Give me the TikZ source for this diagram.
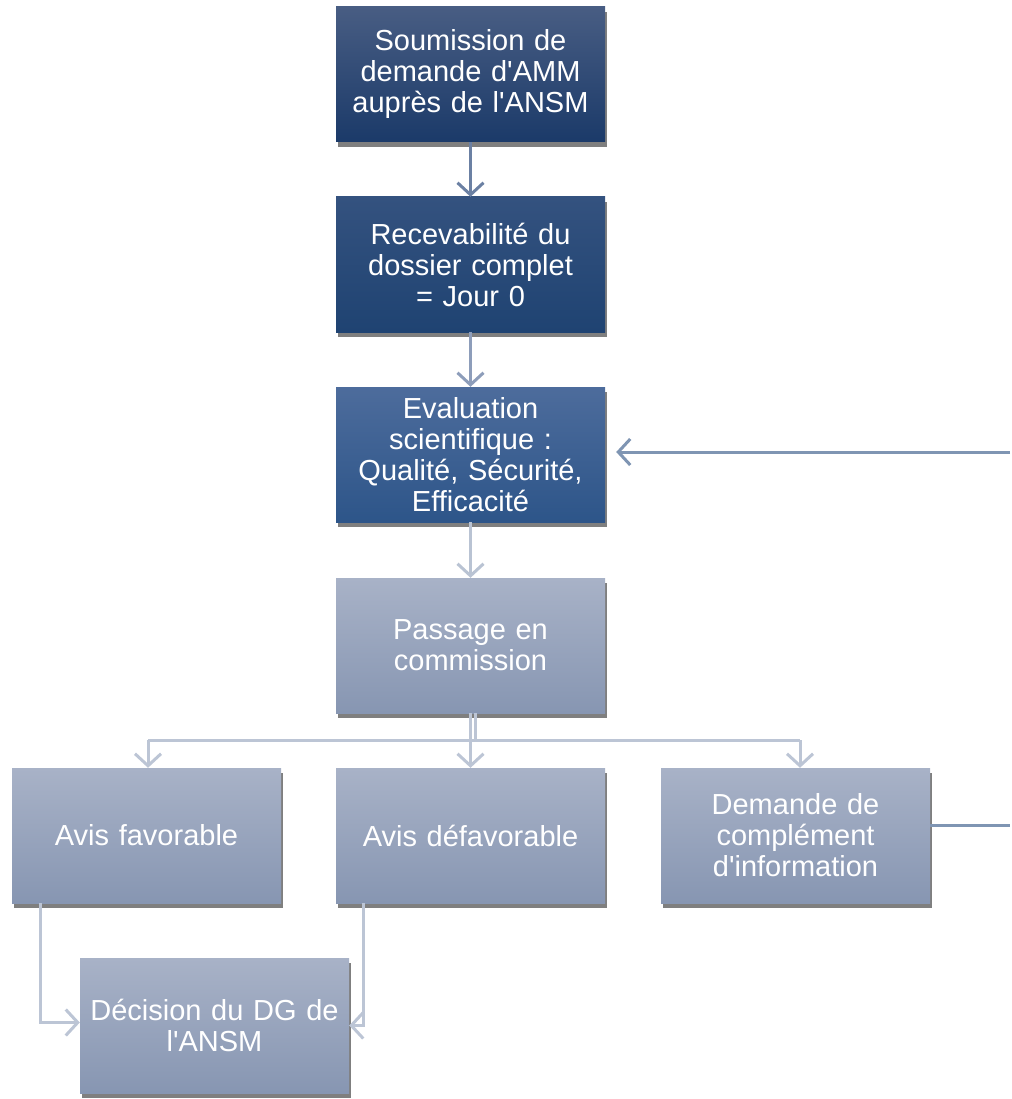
\documentclass[tikz,border=0pt]{standalone}
\usepackage{fontspec}
\setmainfont{Liberation Sans}
\usetikzlibrary{arrows.meta,shadows}
\definecolor{dkA}{HTML}{485D83}
\definecolor{dkB}{HTML}{1B3A69}
\definecolor{mdA}{HTML}{34527F}
\definecolor{mdB}{HTML}{1F4372}
\definecolor{blA}{HTML}{4D6C9C}
\definecolor{blB}{HTML}{2D5589}
\definecolor{ltA}{HTML}{A8B2C7}
\definecolor{ltB}{HTML}{8796B2}
\definecolor{arA}{HTML}{6B80A3}
\definecolor{arB}{HTML}{8D9DBA}
\definecolor{arC}{HTML}{B9C3D3}
\definecolor{arD}{HTML}{BCC5D5}
\definecolor{arE}{HTML}{7F95B3}
\newcommand{\apos}{\textquotesingle}
\tikzset{
  box/.style={rectangle, minimum width=269pt, minimum height=135pt, text width=262pt,
    align=center, text=white, inner sep=0pt,
    font=\fontsize{29}{31}\selectfont,
    drop shadow={shadow xshift=2pt, shadow yshift=-5pt, opacity=0.5, fill=black}},
  dark/.style={box, top color=dkA, bottom color=dkB},
  mid/.style={box, top color=mdA, bottom color=mdB},
  blu/.style={box, top color=blA, bottom color=blB},
  lite/.style={box, top color=ltA, bottom color=ltB},
  conn/.style={line width=3pt, -{Straight Barb[length=12pt,width=26pt,line width=3pt]}},
  plain/.style={line width=3pt}
}
\begin{document}
\begin{tikzpicture}[x=1pt,y=-1pt]
\useasboundingbox (0,0) rectangle (1011,1099);
\node[dark] (b1) at (470.5,74.5) {Soumission de\\demande d\apos AMM\\auprès de l\apos ANSM};
\node[mid]  (b2) at (470.5,264.5) {Recevabilité du\\dossier complet\\= Jour 0};
\node[blu]  (b3) at (470.5,454.5) {Evaluation\\scientifique :\\Qualité, Sécurité,\\Efficacité};
\node[lite] (b4) at (470.5,645.5) {Passage en\\commission};
\node[lite] (fav) at (146.5,835.5) {Avis favorable};
\node[lite] (def) at (470.5,835.5) {Avis défavorable};
\node[lite] (dem) at (795.5,835.5) {Demande de\\complément\\d\apos information};
\node[lite] (dec) at (214.5,1025.5) {Décision du DG de\\l\apos ANSM};
\coordinate (eTop) at (1010,452);
\coordinate (eBot) at (1010,825);
\coordinate (tL) at (148,740);
\coordinate (tR) at (800,740);
% vertical chain
\draw[conn, arA] (b1) -- (b2);
\draw[conn, arB] (b2) -- (b3);
\draw[conn, arC] (b3) -- (b4);
% tree
\draw[plain, arD] ([xshift=5pt]b4.south) -- ([xshift=5pt]b4.south |- tL);
\draw[plain, arD] (tL) -- (tR);
\draw[conn, arD] (tL) -- (fav.north -| tL);
\draw[conn, arD] (b4.south) -- (def.north);
\draw[conn, arD] (tR) -- (dem.north -| tR);
% to decision
\draw[conn, arD] ([xshift=-106pt]fav.south) |- ([yshift=3pt]dec.west);
\draw[conn, arD] ([xshift=-107pt]def.south) |- ([yshift=0pt]dec.east);
% feedback
\draw[plain, arE] (dem.east |- eBot) -- (eBot);
\draw[conn, arE, shorten >=11pt] (eTop) -- (b3.east |- eTop);
\end{tikzpicture}
\end{document}
